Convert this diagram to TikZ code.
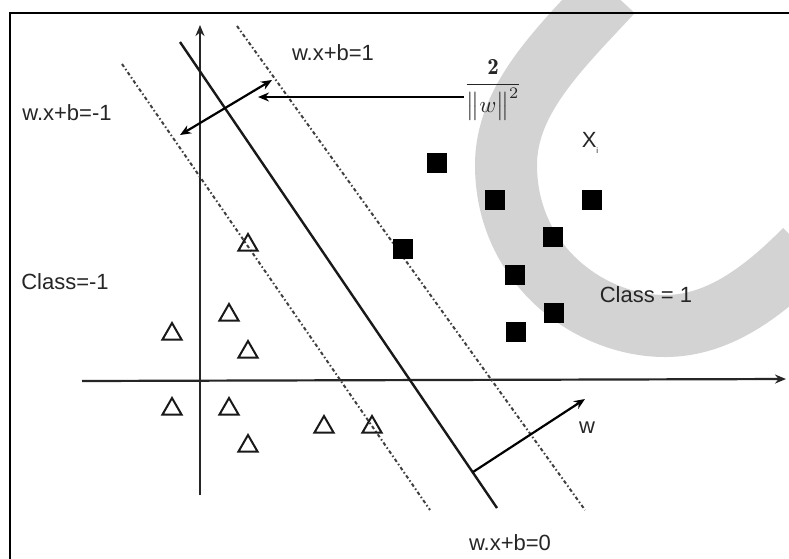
\documentclass[tikz,border=0pt]{standalone}
\usepackage{fontspec}
\setsansfont{Liberation Sans}
\usepackage{amsmath}
\usetikzlibrary{arrows.meta, shapes.geometric}
\definecolor{svmBand}{HTML}{D3D3D3}
\definecolor{svmInk}{HTML}{262626}

\begin{document}
\begin{tikzpicture}[
  x=1pt, y=-1pt,
  lbl/.style={font=\sffamily\fontsize{22}{24}\selectfont, text=svmInk, inner sep=0pt},
  possq/.style={fill=black, minimum size=20pt, inner sep=0pt},
  negtri/.style={draw=black!90, line width=2pt, regular polygon, regular polygon sides=3, minimum size=22pt, inner sep=0pt},
  ax/.style={line width=2.2pt, black!85, -{Stealth[length=11pt,width=9pt]}},
  hplane/.style={line width=2.4pt, black!90},
  mplane/.style={line width=2pt, black!75, dash pattern=on 3.5pt off 2.5pt on 1.5pt off 2.5pt},
  arr/.style={line width=2.2pt, -{Stealth[length=11pt,width=9pt]}}
]
\useasboundingbox (0,0) rectangle (789,558);
\clip (0,0) rectangle (789,558);
\fill[white] (0,0) rectangle (789,558);

% grey band behind everything
\draw[svmBand, line width=62pt] (612,-8) .. controls (558,50) and (506,100) .. (506,165)
  .. controls (506,265) and (590,326) .. (665,326)
  .. controls (720,326) and (765,290) .. (805,250);

% frame
\draw[line width=2.6pt] (10,562) -- (10,13) -- (795,13);

% axes
\coordinate (yb) at (200,495);
\coordinate (yt) at (200,25);
\coordinate (xl) at (82,381);
\coordinate (xr) at (786,379);
\draw[ax] (yb) -- (yt);
\draw[ax] (xl) -- (xr);

% hyperplane and margins
\coordinate (h0a) at (180,42);
\coordinate (h0b) at (497,508);
\coordinate (hma) at (122,64);
\coordinate (hmb) at (430,510);
\coordinate (hpa) at (237,26);
\coordinate (hpb) at (585,510);
\draw[hplane] (h0a) -- (h0b);
\draw[mplane] (hma) -- (hmb);
\draw[mplane] (hpa) -- (hpb);

% class -1
\foreach \x/\y [count=\i] in {248/245, 229/315, 172/334, 248/352, 172/409, 229/409, 324/427, 372/427, 248/446}
  \node[negtri] (n\i) at (\x,\y) {};

% class 1
\foreach \x/\y [count=\i] in {437/163, 495/200, 592/200, 553/237, 403/249, 515/275, 554/313, 516/332}
  \node[possq] (p\i) at (\x,\y) {};

% labels
\node[lbl] (lplus) at (333,53) {w.x+b=1};
\node[lbl] (lminus) at (67,113) {w.x+b=-1};
\node[lbl] (lzero) at (510,543) {w.x+b=0};
\node[lbl] (cneg) at (65,282) {Class=-1};
\node[lbl] (cpos) at (646,295) {Class = 1};
\node[lbl] (wlab) at (587,428) {w};
\node[lbl] (xi) at (590,143) {X\raisebox{-6pt}{\fontsize{8}{8}\selectfont i}};
\node[text=svmInk, inner sep=0pt] (frac) at (493,90) {\scalebox{2.3}{$\dfrac{\mathbf{2}}{\big\|w\big\|^2}$}};

% margin width
\coordinate (dA) at (180,135);
\coordinate (dB) at (272,80);
\draw[line width=2.2pt, {Stealth[length=11pt,width=9pt]}-{Stealth[length=11pt,width=9pt]}] (dA) -- (dB);
\coordinate (mtail) at (464,97);
\coordinate (mtip) at (258,97);
\draw[arr] (mtail) -- (mtip);

% normal vector
\coordinate (wfoot) at (473,472);
\coordinate (wtip) at (585,399);
\draw[arr] (wfoot) -- (wtip);
\end{tikzpicture}
\end{document}
